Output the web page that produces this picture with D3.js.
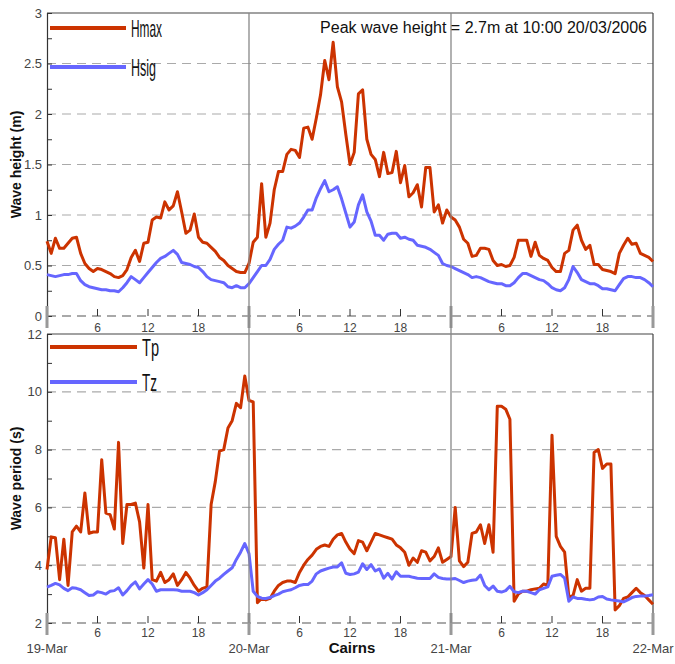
<!DOCTYPE html>
<html><head><meta charset="utf-8">
<script src="https://cdn.jsdelivr.net/npm/d3@7"></script>
<style>
body{margin:0;background:#fff;}
svg{display:block;font-family:"Liberation Sans",Arial,sans-serif;}
</style></head>
<body><svg id="c" width="675" height="664"></svg>
<script>
// ---------- DATA (half-hourly, 19-Mar-2006 00:00 to 22-Mar-2006 00:00) ----------
const hmax = [0.74,0.62,0.77,0.67,0.67,0.72,0.77,0.78,0.62,0.52,0.47,0.44,0.47,0.46,0.44,0.42,0.39,0.38,0.40,0.46,
0.58,0.65,0.54,0.72,0.73,0.95,0.98,0.97,1.13,1.05,1.09,1.23,1.03,0.82,0.85,1.01,0.78,0.73,0.72,0.68,
0.64,0.58,0.55,0.50,0.47,0.44,0.43,0.43,0.52,0.73,0.78,1.31,0.78,0.92,1.25,1.43,1.43,1.60,1.65,1.64,
1.57,1.86,1.87,1.75,1.96,2.19,2.53,2.34,2.71,2.27,2.12,1.80,1.50,1.62,2.20,2.24,1.75,1.60,1.55,1.38,
1.62,1.41,1.42,1.63,1.32,1.49,1.18,1.22,1.30,1.08,1.47,1.47,1.03,1.10,0.92,1.05,0.98,0.95,0.88,0.76,
0.72,0.59,0.60,0.67,0.67,0.66,0.55,0.50,0.51,0.49,0.50,0.58,0.75,0.75,0.75,0.59,0.73,0.60,0.57,0.55,
0.48,0.44,0.44,0.62,0.65,0.85,0.90,0.75,0.66,0.70,0.51,0.51,0.46,0.45,0.44,0.42,0.62,0.70,0.77,0.71,
0.72,0.62,0.60,0.58,0.54];
const hsig = [0.41,0.40,0.39,0.40,0.41,0.41,0.42,0.42,0.35,0.31,0.29,0.28,0.27,0.26,0.26,0.25,0.25,0.24,0.28,0.33,
0.39,0.36,0.33,0.38,0.43,0.48,0.53,0.57,0.59,0.62,0.65,0.61,0.53,0.52,0.51,0.49,0.48,0.44,0.39,0.36,
0.35,0.34,0.33,0.29,0.28,0.30,0.28,0.28,0.32,0.38,0.44,0.50,0.50,0.56,0.66,0.71,0.75,0.88,0.87,0.89,
0.92,0.98,1.05,1.05,1.17,1.26,1.34,1.23,1.25,1.28,1.16,1.02,0.88,0.93,1.10,1.20,1.03,0.94,0.80,0.80,
0.75,0.81,0.82,0.82,0.77,0.78,0.76,0.75,0.70,0.69,0.68,0.66,0.63,0.60,0.52,0.50,0.49,0.47,0.45,0.43,
0.41,0.38,0.39,0.38,0.36,0.34,0.33,0.32,0.32,0.30,0.30,0.33,0.38,0.42,0.42,0.40,0.38,0.36,0.35,0.32,
0.28,0.26,0.25,0.28,0.36,0.49,0.43,0.36,0.34,0.32,0.32,0.30,0.27,0.27,0.26,0.25,0.31,0.37,0.39,0.39,
0.38,0.38,0.36,0.33,0.29];
const tp = [3.85,4.98,4.95,3.5,4.9,3.3,5.15,5.35,5.15,6.5,5.1,5.15,5.15,7.65,5.8,5.75,5.25,8.25,4.75,6.1,
6.1,6.15,5.5,3.9,6.1,3.5,3.45,3.75,3.4,3.5,3.7,3.3,3.5,3.75,3.55,3.3,3.1,3.2,3.25,6.1,
6.9,7.95,8.0,8.75,9.0,9.6,9.45,10.55,9.7,9.65,2.7,2.85,2.8,2.85,3.1,3.3,3.4,3.45,3.45,3.4,
3.75,4.0,4.2,4.35,4.55,4.65,4.7,4.65,4.9,5.05,5.1,4.8,4.55,4.4,4.85,4.8,4.5,4.8,5.1,5.05,
5.0,4.95,4.9,4.7,4.6,4.45,4.0,4.25,4.1,4.5,4.45,4.15,4.3,4.6,4.1,4.2,4.3,6.0,4.15,3.95,
4.1,5.1,5.15,5.4,4.75,5.4,4.45,9.5,9.5,9.4,9.05,2.75,3.0,3.1,3.1,3.15,3.18,3.2,3.35,3.3,
8.5,5.0,4.65,4.45,2.9,2.95,3.5,3.1,3.2,3.2,7.9,8.0,7.35,7.5,7.5,2.45,2.6,2.85,2.9,3.05,
3.2,3.05,2.95,2.8,2.65];
const tz = [3.24,3.3,3.37,3.32,3.2,3.12,3.22,3.2,3.15,3.05,2.95,2.97,3.08,3.05,3.0,3.1,3.12,3.22,2.97,3.12,
3.3,3.42,3.18,3.35,3.5,3.35,3.1,3.15,3.15,3.15,3.15,3.14,3.1,3.1,3.1,3.05,2.97,3.05,3.15,3.3,
3.45,3.55,3.68,3.8,3.91,4.2,4.45,4.75,4.4,3.1,2.92,2.86,2.85,2.88,2.95,3.0,3.08,3.12,3.15,3.22,
3.3,3.33,3.33,3.45,3.7,3.8,3.85,3.9,3.94,3.94,4.08,3.72,3.68,3.7,3.76,4.05,3.85,4.02,3.8,3.87,
3.55,3.72,3.52,3.77,3.62,3.62,3.62,3.58,3.55,3.54,3.54,3.54,3.7,3.58,3.54,3.52,3.52,3.54,3.47,3.4,
3.45,3.48,3.5,3.66,3.3,3.15,3.28,3.1,3.07,3.12,3.27,3.08,3.05,3.1,3.1,3.05,3.0,3.15,3.2,3.25,
3.62,3.65,3.68,3.55,2.75,2.9,2.85,2.85,2.82,2.8,2.82,2.9,2.92,2.83,2.8,2.78,2.76,2.73,2.8,2.88,
2.92,2.93,2.93,2.95,2.98];
const dayLabels = ["19-Mar","20-Mar","21-Mar","22-Mar"];
const hourTicks = [6,12,18];
const heightTicks = [0,0.5,1,1.5,2,2.5,3];
const periodTicks = [2,4,6,8,10,12];
const peakText = "Peak wave height = 2.7m at 10:00 20/03/2006";

// ---------- LAYOUT ----------
const svg = d3.select("#c");
const L = 47, R = 653;
const RED = "#cc3300", BLUE = "#6666ff";
const hours = hmax.map((d,i)=>i*0.5);
const x = d3.scaleLinear().domain([0,72]).range([L,R]);

const panels = [
  {top:13, bot:316, dom:[0,3], ticks:heightTicks, minor:0.25, title:"Wave height (m)", hl:16,
   s1:hmax, s2:hsig, n1:"Hmax", n2:"Hsig", w1:31, w2:25, ly1:28, ly2:67},
  {top:334, bot:623, dom:[2,12], ticks:periodTicks, minor:1, title:"Wave period (s)", hl:14,
   s1:tp, s2:tz, n1:"Tp", n2:"Tz", w1:17, w2:15, ly1:347, ly2:382}
];

panels.forEach((p,pi)=>{
  const y = d3.scaleLinear().domain(p.dom).range([p.bot,p.top]);
  const g = svg.append("g");
  // gridlines (dashed)
  g.selectAll(".grid").data(p.ticks.filter(t=>t!==p.dom[1])).enter().append("line")
    .attr("x1",L).attr("x2",R).attr("y1",d=>y(d)).attr("y2",d=>y(d))
    .attr("stroke",d=>d===p.dom[0]?"#555":"#aaa").attr("stroke-width",1.2)
    .attr("stroke-dasharray","9,6");
  // frame top/right
  g.append("line").attr("x1",L).attr("x2",R).attr("y1",p.top).attr("y2",p.top).attr("stroke","#444").attr("stroke-width",1.2);
  g.append("line").attr("x1",R).attr("x2",R).attr("y1",p.top).attr("y2",p.bot).attr("stroke","#444").attr("stroke-width",1.2);
  // y axis
  const minorVals = d3.range(p.dom[0], p.dom[1]+1e-9, p.minor);
  const ax = d3.axisRight(y).tickValues(minorVals).tickSize(5).tickFormat("");
  const ga = g.append("g").attr("transform",`translate(${L},0)`).call(ax);
  ga.select(".domain").attr("stroke","#333").attr("stroke-width",1.2);
  ga.selectAll(".tick line").attr("stroke","#333");
  const axl = d3.axisLeft(y).tickValues(p.ticks).tickSize(0).tickPadding(5).tickFormat(d3.format("~g"));
  const gl = g.append("g").attr("transform",`translate(${L},0)`).call(axl);
  gl.select(".domain").remove();
  gl.selectAll("text").attr("font-size",13).attr("fill","#444").attr("font-family","Liberation Sans, Arial, sans-serif");
  // hour ticks
  const hts = [];
  [0,24,48].forEach(d=>hourTicks.forEach(h=>hts.push(d+h)));
  g.selectAll(".ht").data(hts).enter().append("line")
    .attr("x1",d=>x(d)).attr("x2",d=>x(d)).attr("y1",p.bot-7).attr("y2",p.bot)
    .attr("stroke","#333").attr("stroke-width",1);
  g.selectAll(".hl").data(hts).enter().append("text")
    .attr("x",d=>x(d)).attr("y",p.bot+p.hl).attr("text-anchor","middle")
    .attr("font-size",12).attr("fill","#444").text(d=>d%24);
  // day boundary marks
  g.selectAll(".dm").data([0,24,48,72]).enter().append("line")
    .attr("x1",d=>x(d)).attr("x2",d=>x(d)).attr("y1",p.bot-10).attr("y2",p.bot+12)
    .attr("stroke","#999").attr("stroke-width",3);
  // y title
  g.append("text").attr("transform",`translate(21,${(p.top+p.bot)/2}) rotate(-90)`)
    .attr("text-anchor","middle").attr("font-size",14).attr("font-weight","bold").attr("fill","#111").text(p.title);
  // lines
  const line = d3.line().x((d,i)=>x(hours[i])).y(d=>y(d));
  g.append("path").datum(p.s1).attr("d",line).attr("fill","none").attr("stroke",RED).attr("stroke-width",3).attr("stroke-linejoin","round");
  g.append("path").datum(p.s2).attr("d",line).attr("fill","none").attr("stroke",BLUE).attr("stroke-width",3).attr("stroke-linejoin","round");
  // legend
  [[p.n1,RED,p.ly1,p.w1],[p.n2,BLUE,p.ly2,p.w2]].forEach(([n,c,ly,w])=>{
    const lx2 = pi===0?126:137;
    g.append("line").attr("x1",50).attr("x2",lx2).attr("y1",ly).attr("y2",ly).attr("stroke",c).attr("stroke-width",4);
    g.append("text").attr("x",lx2+5).attr("y",ly+9).attr("font-size",24).attr("fill","#111")
      .attr("textLength",w).attr("lengthAdjust","spacingAndGlyphs").text(n);
  });
});

// vertical day separator lines spanning both panels
svg.selectAll(".vd").data([24,48]).enter().append("line")
  .attr("x1",d=>x(d)).attr("x2",d=>x(d)).attr("y1",13).attr("y2",623)
  .attr("stroke","#888").attr("stroke-width",1.3);

// annotation
svg.append("text").attr("x",647).attr("y",33).attr("text-anchor","end")
  .attr("font-size",16).attr("fill","#111").text(peakText);

// day labels
svg.selectAll(".dl").data(dayLabels).enter().append("text")
  .attr("x",(d,i)=>x(i*24)).attr("y",653).attr("text-anchor","middle")
  .attr("font-size",13).attr("fill","#444").text(d=>d);
svg.append("text").attr("x",352).attr("y",653).attr("text-anchor","middle")
  .attr("font-size",15).attr("font-weight","bold").attr("fill","#111").text("Cairns");
</script></body></html>
